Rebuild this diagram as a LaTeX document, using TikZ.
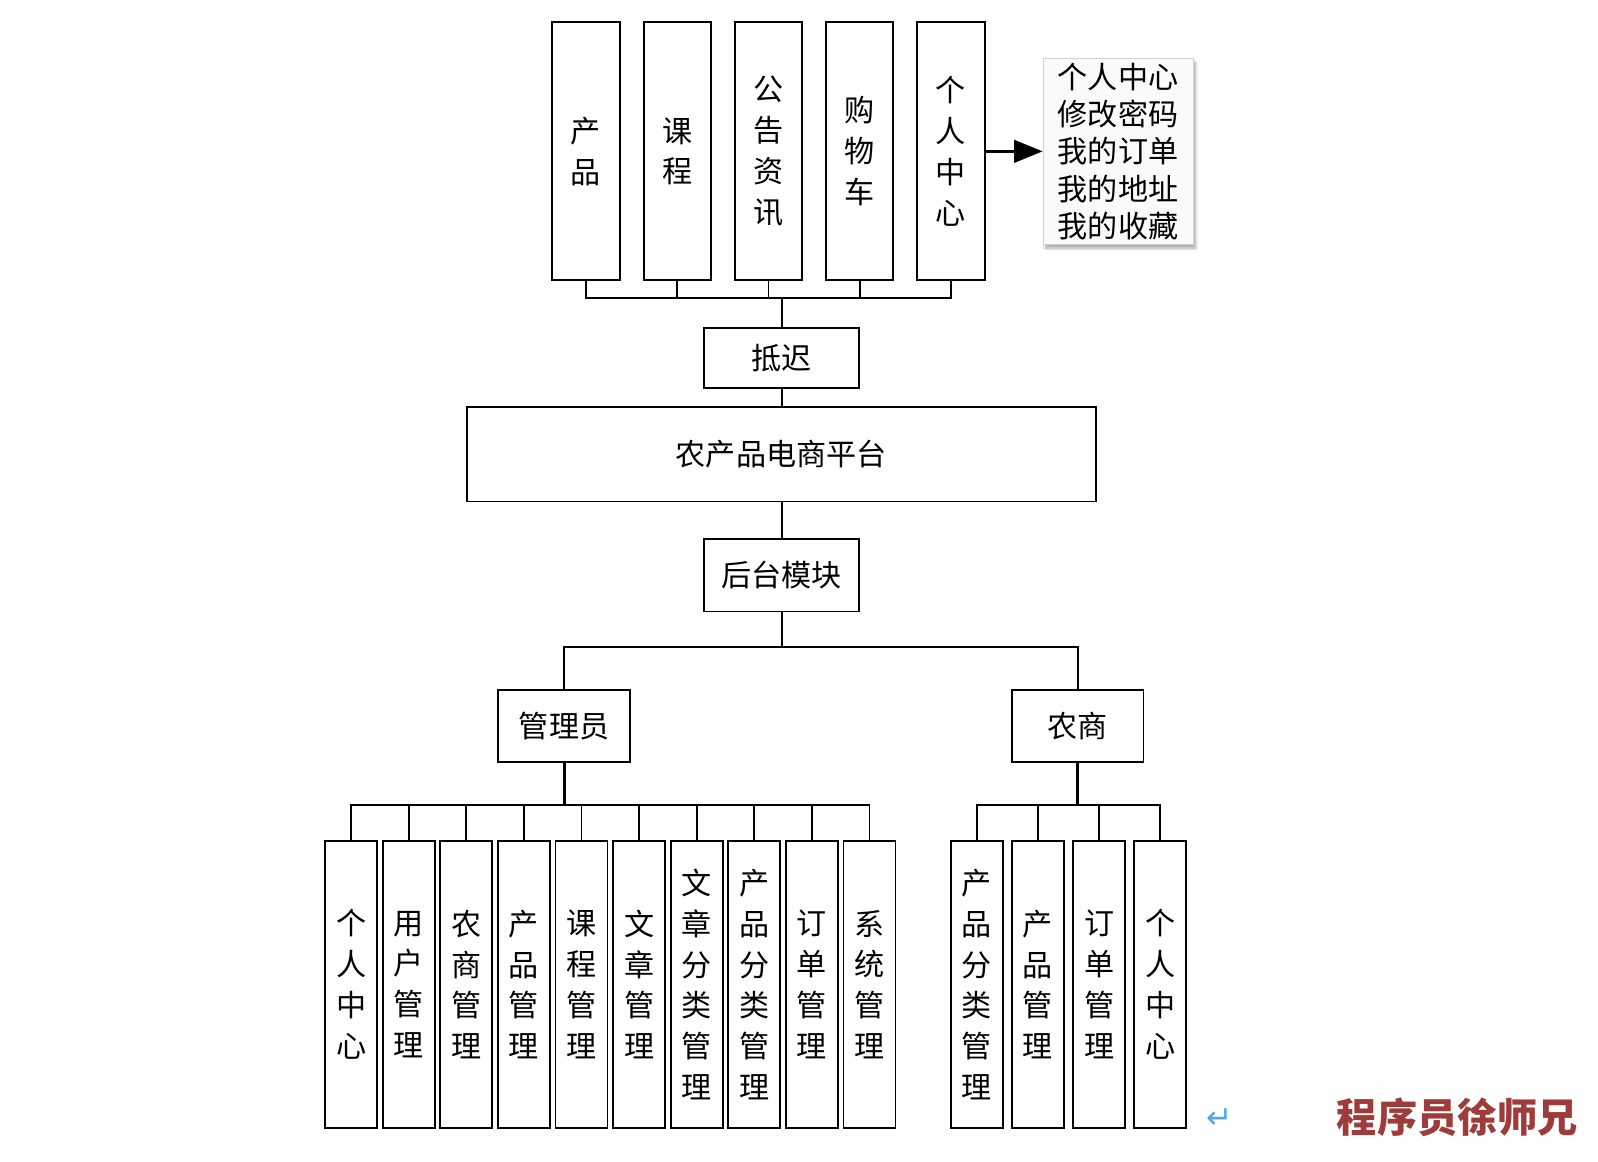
\documentclass[tikz,border=0pt]{standalone}
\usepackage{fontspec}
\setmainfont{Noto Sans CJK SC}
\newfontfamily\symfont{DejaVu Sans}
\usepackage{tikz}
\usetikzlibrary{arrows.meta,positioning,shadows.blur}
\definecolor{retblue}{HTML}{4EA6F0}
\definecolor{wmred}{HTML}{9E3B3B}
\tikzset{
  colbox/.style={draw, line width=1.3pt, fill=white, inner sep=0pt, outer sep=0pt,
    align=center, font=\fontsize{21pt}{28.5pt}\selectfont},
  topbox/.style={colbox, minimum width=1.65cm, minimum height=6.325cm},
  leafbox/.style={colbox, minimum width=1.275cm, minimum height=7.05cm},
  midbox/.style={colbox, minimum width=3.8cm},
  rolebox/.style={colbox, minimum width=3.225cm, minimum height=1.775cm},
  infobox/.style={draw=gray!35, fill=gray!4, line width=0.6pt, inner sep=0pt,
    minimum width=3.675cm, minimum height=4.55cm, align=left,
    font=\fontsize{21pt}{26pt}\selectfont,
    blur shadow={shadow xshift=0.06cm, shadow yshift=-0.1cm,
      shadow blur steps=6, shadow opacity=35}},
  link/.style={line width=1.3pt},
  trunk/.style={line width=2pt},
  arr/.style={-{Triangle[length=0.7cm, width=0.55cm]}, line width=2pt}
}

\begin{document}
\begin{tikzpicture}[x=0.025cm, y=-0.025cm, node distance=0.5875cm]
  \useasboundingbox (0,0) rectangle (1568,1140);
  % front pages
  \node[topbox] (prod) at (575,148.5) {产\\品};
  \node[topbox, right=of prod] (course) {课\\程};
  \node[topbox, right=of course] (news) {公\\告\\资\\讯};
  \node[topbox, right=of news] (cart) {购\\物\\车};
  \node[topbox, right=of cart] (self) {个\\人\\中\\心};
  \node[infobox, right=1.425cm of self] (info) {个人中心\\修改密码\\我的订单\\我的地址\\我的收藏};
  \draw[arr] (self.east) -- (info.west);

  \node[midbox, minimum height=1.475cm] (delay) at (767,351.5) {抵迟};
  \node[colbox, minimum width=15.425cm, minimum height=2.325cm] (platform) at (766.5,445.5) {农产品电商平台};
  \node[midbox, minimum height=1.775cm] (backend) at (767,564.5) {后台模块};
  \node[rolebox] (admin) at (553.5,712.5) {管理员};
  \node[rolebox] (farmer) at (1057.5,712.5) {农商};

  % admin modules
  \node[leafbox] (a1) at (344.5,966) {个\\人\\中\\心};
  \node[leafbox, right=0.1375cm of a1] (a2) {用\\户\\管\\理};
  \node[leafbox, right=0.1375cm of a2] (a3) {农\\商\\管\\理};
  \node[leafbox, right=0.1375cm of a3] (a4) {产\\品\\管\\理};
  \node[leafbox, right=0.1375cm of a4] (a5) {课\\程\\管\\理};
  \node[leafbox, right=0.1375cm of a5] (a6) {文\\章\\管\\理};
  \node[leafbox, right=0.1375cm of a6] (a7) {文\\章\\分\\类\\管\\理};
  \node[leafbox, right=0.1375cm of a7] (a8) {产\\品\\分\\类\\管\\理};
  \node[leafbox, right=0.1375cm of a8] (a9) {订\\单\\管\\理};
  \node[leafbox, right=0.1375cm of a9] (a10) {系\\统\\管\\理};

  % farmer modules
  \node[leafbox] (f1) at (958.5,966) {产\\品\\分\\类\\管\\理};
  \node[leafbox, right=0.225cm of f1] (f2) {产\\品\\管\\理};
  \node[leafbox, right=0.225cm of f2] (f3) {订\\单\\管\\理};
  \node[leafbox, right=0.225cm of f3] (f4) {个\\人\\中\\心};

  % connectors
  \coordinate (tbus) at (767,292);
  \draw[link] (prod.south) |- (tbus) -| (self.south);
  \draw[link] (course.south) -- (course.south |- tbus);
  \draw[link] (news.south) -- (news.south |- tbus);
  \draw[link] (cart.south) -- (cart.south |- tbus);
  \draw[link] (tbus) -- (delay.north);
  \draw[link] (delay.south) -- (delay.south |- platform.north);
  \draw[link] (backend.north |- platform.south) -- (backend.north);
  \coordinate (split) at (767,635);
  \draw[link] (backend.south) -- (split);
  \draw[link] (admin.north) |- (split) -| (farmer.north);

  \coordinate (abus) at (553.5,790);
  \draw[trunk] (admin.south) -- (abus);
  \draw[link] (a1.north) |- (abus) -| (a10.north);
  \draw[link] (a2.north) -- (a2.north |- abus);
  \draw[link] (a3.north) -- (a3.north |- abus);
  \draw[link] (a4.north) -- (a4.north |- abus);
  \draw[link] (a5.north) -- (a5.north |- abus);
  \draw[link] (a6.north) -- (a6.north |- abus);
  \draw[link] (a7.north) -- (a7.north |- abus);
  \draw[link] (a8.north) -- (a8.north |- abus);
  \draw[link] (a9.north) -- (a9.north |- abus);

  \coordinate (fbus) at (1057.5,790);
  \draw[trunk] (farmer.south) -- (fbus);
  \draw[link] (f1.north) |- (fbus) -| (f4.north);
  \draw[link] (f2.north) -- (f2.north |- fbus);
  \draw[link] (f3.north) -- (f3.north |- fbus);

  \node[font=\symfont\fontsize{22pt}{22pt}\selectfont, text=retblue] (ret) at (1197,1098) {↵};
  \node[font=\bfseries\fontsize{28pt}{28pt}\selectfont, text=wmred] (mark) at (1430,1096) {程序员徐师兄};
\end{tikzpicture}
\end{document}
